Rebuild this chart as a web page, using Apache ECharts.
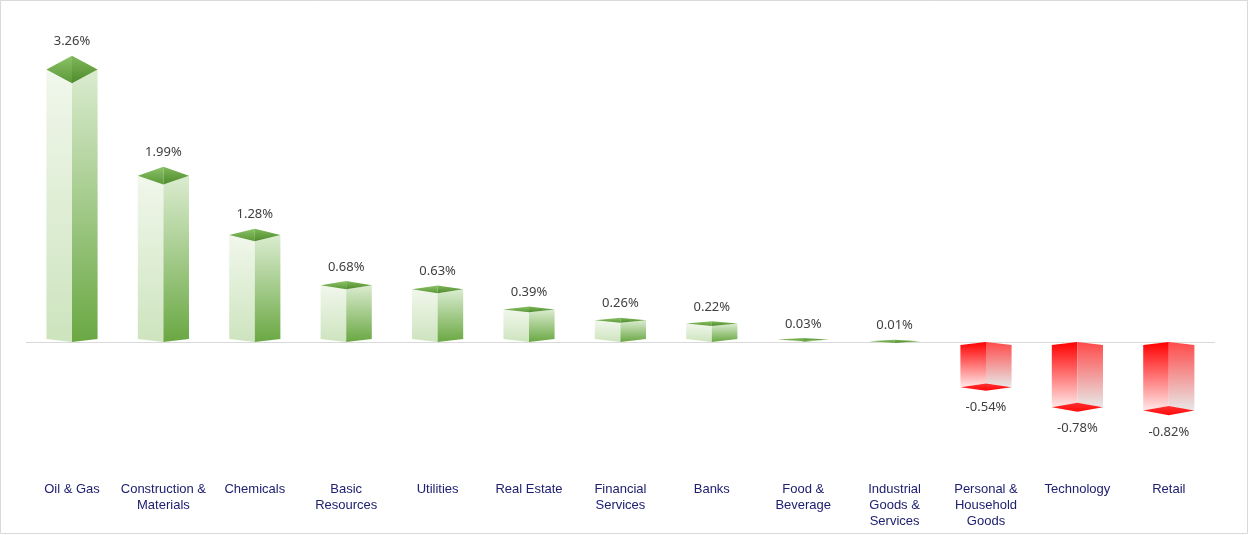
<!DOCTYPE html>
<html>
<head>
<meta charset="utf-8">
<script src="https://cdn.jsdelivr.net/npm/echarts@6/dist/echarts.min.js"></script>
<style>
  html, body { margin: 0; padding: 0; background: #fff; }
  #chart { width: 1249px; height: 535px; }
</style>
</head>
<body>
<div id="chart"></div>
<script>
var sectors = ['Oil & Gas', 'Construction &\nMaterials', 'Chemicals', 'Basic\nResources', 'Utilities',
  'Real Estate', 'Financial\nServices', 'Banks', 'Food &\nBeverage', 'Industrial\nGoods &\nServices',
  'Personal &\nHousehold\nGoods', 'Technology', 'Retail'];
var changes = [3.26, 1.99, 1.28, 0.68, 0.63, 0.39, 0.26, 0.22, 0.03, 0.01, -0.54, -0.78, -0.82];

var chart = echarts.init(document.getElementById('chart'));

function grad(c1, c2) {
  return new echarts.graphic.LinearGradient(0, 0, 0, 1, [
    { offset: 0, color: c1 }, { offset: 1, color: c2 }
  ]);
}

// draws one prism per value: two side faces + top (or bottom) diamond
function renderBox(params, api) {
  var v = api.value(1);
  var top = api.coord([api.value(0), v]);
  var base = api.coord([api.value(0), 0]);
  var band = api.size([1, 0])[0];
  var w = band * 0.56;
  var cx = top[0], xl = cx - w / 2, xr = cx + w / 2;
  var y0 = base[1], yv = top[1];
  var d = Math.abs(yv - y0);
  var h = 1.5 + 0.045 * d;
  var bo = Math.min(3, d);
  var font = '13px "Noto Sans", sans-serif';
  var kids = [];
  if (v >= 0) {
    kids.push({ type: 'polygon', shape: { points: [[xl, y0 - bo], [cx, y0], [cx, yv + h], [xl, yv]] },
      style: { fill: grad('#f1f7ec', '#cde4be') } });
    kids.push({ type: 'polygon', shape: { points: [[cx, y0], [xr, y0 - bo], [xr, yv], [cx, yv + h]] },
      style: { fill: grad('#dbecd0', '#6aa843') } });
    kids.push({ type: 'polygon', shape: { points: [[cx, yv - h], [cx, yv + h], [xl, yv]] },
      style: { fill: grad('#8cc269', '#5a9836') } });
    kids.push({ type: 'polygon', shape: { points: [[cx, yv - h], [xr, yv], [cx, yv + h]] },
      style: { fill: grad('#7fb85a', '#4e8a2b') } });
    kids.push({ type: 'text', style: { text: v.toFixed(2) + '%', x: cx, y: yv - h - 14,
      align: 'center', verticalAlign: 'middle', fill: '#404040', font: font } });
  } else {
    kids.push({ type: 'polygon', shape: { points: [[xl, y0 + bo], [cx, y0], [cx, yv - h], [xl, yv]] },
      style: { fill: grad('#ff0000', '#ffe8e8') } });
    kids.push({ type: 'polygon', shape: { points: [[cx, y0], [xr, y0 + bo], [xr, yv], [cx, yv - h]] },
      style: { fill: grad('#ff4a4a', '#e8e8e8') } });
    kids.push({ type: 'polygon', shape: { points: [[cx, yv - h], [xr, yv], [cx, yv + h], [xl, yv]] },
      style: { fill: grad('#ff3030', '#ff0a0a') } });
    kids.push({ type: 'text', style: { text: v.toFixed(2) + '%', x: cx, y: yv + h + 17,
      align: 'center', verticalAlign: 'middle', fill: '#404040', font: font } });
  }
  return { type: 'group', children: kids };
}

var option = {
  animation: false,
  backgroundColor: '#fff',
  graphic: [{
    type: 'rect', shape: { x: 0.5, y: 0.5, width: 1247, height: 533 },
    style: { fill: 'none', stroke: '#d9d9d9', lineWidth: 1 }, z: 100
  }],
  grid: { left: 26.3, right: 34.5, top: 7.6, bottom: 67.6 },
  xAxis: [{
    type: 'category', data: sectors, position: 'bottom',
    axisLine: { onZero: true, lineStyle: { color: '#d9d9d9' } },
    axisTick: { show: false }, axisLabel: { show: false }
  }, {
    type: 'category', data: sectors, position: 'bottom',
    axisLine: { show: false, onZero: false }, axisTick: { show: false },
    axisLabel: { interval: 0, margin: 14.5, color: '#1f2070', fontSize: 13, lineHeight: 16,
      fontFamily: '"Liberation Sans", Arial, sans-serif' }
  }],
  yAxis: { type: 'value', min: -1.5, max: 4, show: false, splitLine: { show: false } },
  series: [{
    type: 'custom', xAxisIndex: 0,
    renderItem: renderBox,
    data: changes.map(function (c, i) { return [i, c]; })
  }]
};
chart.setOption(option);
</script>
</body>
</html>
